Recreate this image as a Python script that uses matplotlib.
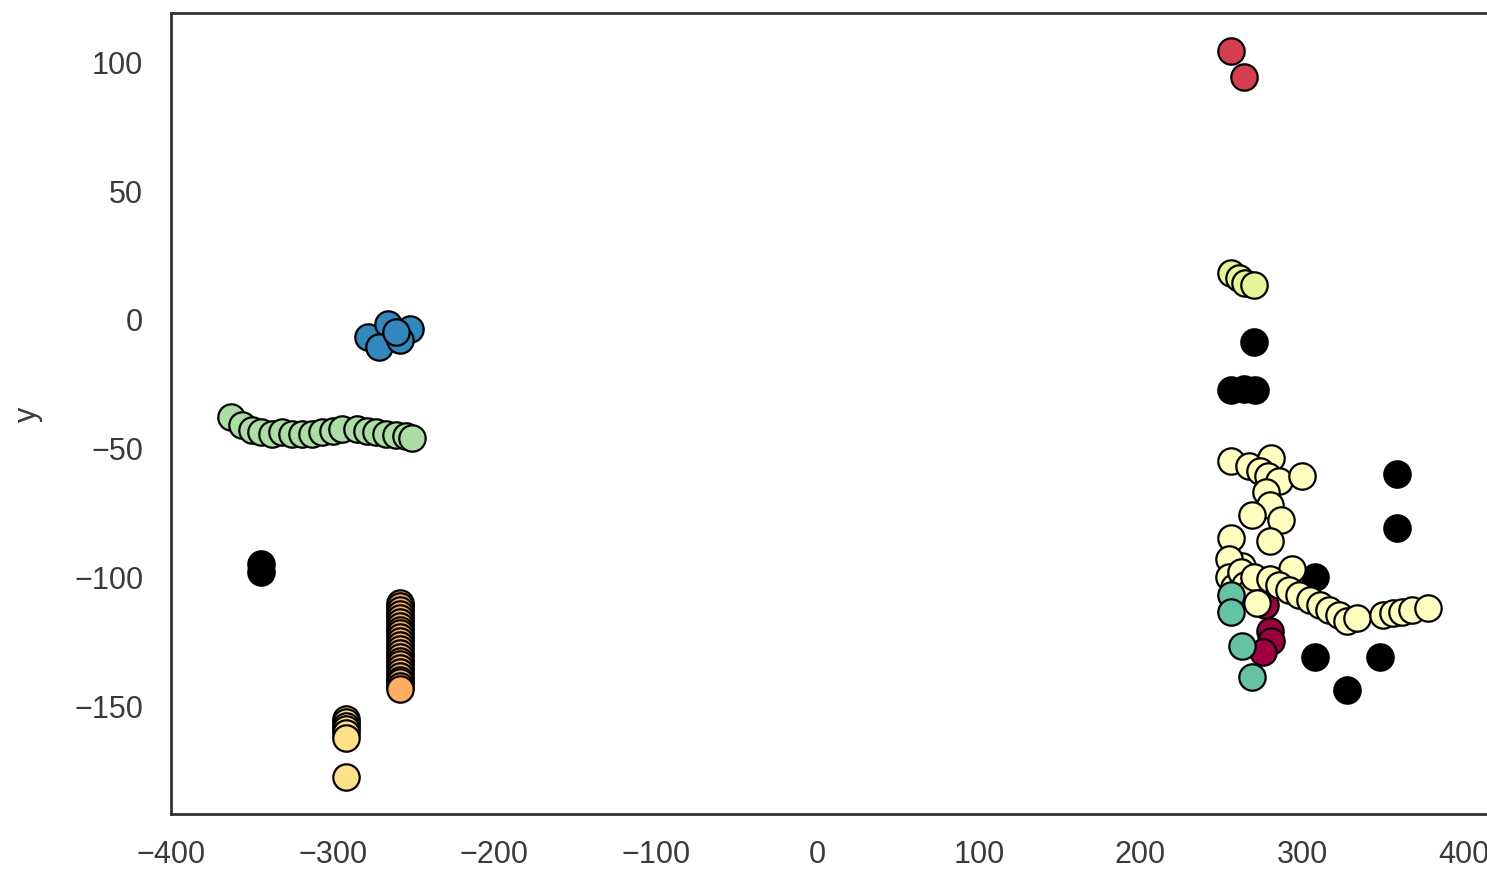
import numpy as np
import matplotlib.pyplot as plt

# cluster points (x, y), label -1 = noise
noise_x = [-344, -344, 270, 256, 264, 271, 359, 359, 308, 308, 328, 348]
noise_y = [-95, -98, -9, -27.5, -27, -27.5, -60, -81, -100, -131, -144, -131]

crimson_x = [277, 280, 281, 276]
crimson_y = [-111, -121, -125, -129]

red_x = [256, 264]
red_y = [104, 94]

orange_x = [-258.5] * 24
orange_y = [-110, -111.5, -113, -114.5, -116, -117.5, -119, -120.5, -122,
            -123.5, -125, -126.5, -128, -129.5, -131, -132.5, -134, -135.5,
            -137, -138.5, -140, -141, -142.2, -143.4]

lightorange_x = [-292] * 7
lightorange_y = [-155, -156.5, -158, -159, -160.5, -162.5, -177.5]

paleyellow_x = [256, 267, 281, 274, 279, 286, 300, 278, 280, 269, 287, 256, 280,
                263, 255, 294, 255, 258, 260, 262, 265, 268, 270, 272, 280, 286,
                292, 298, 305, 311, 317, 323, 328, 334, 350, 356, 362, 368, 378]
paleyellow_y = [-55, -57, -54, -59, -61, -63, -61, -67, -72, -76, -78, -85, -86,
                -96, -93, -97, -100, -104, -108, -98, -103, -106, -100, -110,
                -101, -103, -105, -107, -109, -111, -113, -115, -117, -116,
                -115, -114, -113.5, -113, -112]

yellowgreen_x = [256, 261, 265, 270]
yellowgreen_y = [18, 16, 14, 13]

green_x = [-363, -356, -350, -344, -337.5, -331, -325, -319, -313, -306.5,
           -300, -294, -285, -279, -273, -267, -261, -254.5, -251]
green_y = [-38, -41, -43, -44, -44.5, -44, -44.5, -44.5, -44.5, -44, -43.5,
           -42.5, -42.6, -43.5, -44, -44.5, -45, -45.5, -46]

teal_x = [256, 256, 263, 269]
teal_y = [-107, -113.5, -127, -139]

blue_x = [-278, -266, -252, -271, -258, -261]
blue_y = [-7, -2, -4, -11, -8, -5]

clusters = [
    (noise_x, noise_y, '#000000'),
    (crimson_x, crimson_y, '#9e0142'),
    (red_x, red_y, '#d53e4f'),
    (orange_x, orange_y, '#fdae61'),
    (lightorange_x, lightorange_y, '#fee08b'),
    (paleyellow_x, paleyellow_y, '#ffffbf'),
    (yellowgreen_x, yellowgreen_y, '#e6f598'),
    (green_x, green_y, '#abdda4'),
    (teal_x, teal_y, '#66c2a5'),
    (blue_x, blue_y, '#3288bd'),
]

plt.rcParams['font.family'] = ['Liberation Sans', 'DejaVu Sans']

fig = plt.figure(figsize=(14.87, 8.78), dpi=100)
ax = fig.add_axes([0.115, 0.0718, 0.891, 0.912])

for xs, ys, col in clusters:
    ax.plot(xs, ys, 'o', markerfacecolor=col, markeredgecolor='k',
            markersize=19, markeredgewidth=1.6)

ax.set_xlim(-400, 420)
ax.set_ylim(-192, 118.6)
ax.set_xticks(np.arange(-400, 401, 100))
ax.set_yticks(np.arange(-150, 101, 50))
ax.tick_params(axis='both', length=0, labelsize=22, colors='#3a3a3a')
ax.tick_params(axis='y', pad=20)
ax.tick_params(axis='x', pad=18)
for s in ax.spines.values():
    s.set_color('#333333')
    s.set_linewidth(2)

ax.set_ylabel('y', fontsize=22, color='#3a3a3a')
ax.yaxis.set_label_coords(-0.097, 0.5)

fig.savefig('out.png', dpi=100)
